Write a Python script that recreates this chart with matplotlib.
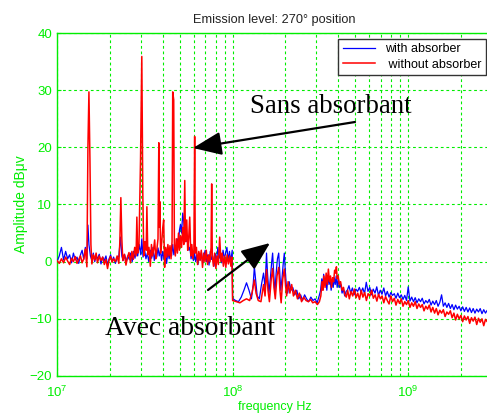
import matplotlib
matplotlib.use("Agg")
import matplotlib.pyplot as plt
import numpy as np

# ---------------- data (frequencies in MHz, amplitudes in dBuV) ----------------
red_freq_mhz = [
    10.0, 10.3, 10.6, 10.9, 11.2, 11.5, 11.8, 12.1, 12.4, 12.7, 13.0, 13.3, 13.6, 13.9, 14.2, 14.5, 14.8,
    15.0, 15.2, 15.4, 15.6, 15.8, 16.1, 16.4, 16.7, 17.0, 17.4, 17.8, 18.2, 18.6, 19.0, 19.4, 19.8,
    20.2, 20.6, 21.0, 21.5, 22.0, 22.5, 22.8, 23.1, 23.4, 23.7, 24.2, 24.7, 25.2, 25.7, 26.2, 26.7,
    27.2, 27.7, 28.2, 28.5, 28.8, 29.3, 29.9, 30.4, 30.8, 31.2, 31.7, 32.2, 32.5, 32.9, 33.4, 34.0,
    34.5, 35.0, 35.5, 36.0, 36.5, 37.0, 37.6, 38.0, 38.3, 38.5, 38.9, 39.5, 40.0, 40.5, 41.0, 41.6,
    42.2, 42.8, 43.4, 44.0, 44.6, 45.2, 45.6, 46.2, 46.6, 47.2, 47.8, 48.5, 49.2, 49.8, 50.5, 51.2,
    52.0, 52.7, 53.4, 53.9, 54.8, 55.5, 56.2, 57.0, 57.8, 58.6, 59.4, 60.2, 60.8, 61.3, 62.2, 63.2,
    64.2, 65.2, 66.3, 67.4, 68.5, 69.6, 70.8, 72.0, 73.2, 74.4, 75.4, 76.0, 76.6, 77.8, 79.0, 80.3,
    81.6, 83.0, 84.4, 85.8, 87.2, 88.6, 90.0, 91.5, 93.0, 94.6, 96.2, 97.8, 99.0, 100.0,
    100.5, 105, 110, 115, 120, 125, 129, 133, 136, 140, 145, 150, 153, 156, 159, 162, 166, 169,
    172, 175, 179, 183, 186, 189, 193, 197, 200, 203,
    207, 212, 217, 222, 228, 234, 240, 247, 254, 262, 270, 278, 286, 295, 304, 312, 318, 323, 327,
    331, 336, 341, 346, 351, 356, 361, 366, 371, 376, 381, 386, 390, 394, 399, 405, 412, 420, 428,
    436, 444,
    452, 462, 472, 483, 494, 505, 516, 528, 540, 552, 565, 578, 591, 605, 619, 633, 648, 663, 678,
    694, 710, 726, 743, 760, 778, 796, 814, 833, 852, 872, 892, 913, 934, 956, 978, 1000, 1023,
    1047, 1071, 1096, 1122, 1148, 1175, 1202, 1230, 1259, 1288, 1318, 1349, 1380, 1413, 1445, 1479,
    1514, 1549, 1585, 1622, 1660, 1698, 1738, 1778, 1820, 1862, 1905, 1950, 1995, 2042, 2089, 2138,
    2188, 2239, 2291, 2344, 2399, 2455, 2512, 2570, 2630, 2692, 2754, 2818, 2884, 2951,
]
red_amp_db = [
    0.2, -0.3, 0.5, -0.2, 0.8, 0.1, -0.5, 0.6, 0.0, 0.9, -0.3, 0.4, 1.0, -0.2, 0.5, 2.2, -0.9,
    20.0, 29.7, 18.0, 3.0, -0.4, 1.2, 0.3, 1.5, -0.2, 1.0, 0.2, 0.8, -0.5, 0.4, -1.2, 0.3,
    0.9, -0.1, 0.5, 0.0, 1.0, -0.3, 3.5, 11.2, 4.0, 0.2, 1.3, -0.6, 0.8, 1.6, -0.2, 1.8,
    0.4, 2.5, 1.0, 7.8, 1.5, 3.0, 17.8, 35.9, 12.0, 1.0, 3.5, 2.0, 9.6, 1.2, 2.5, -0.8,
    3.0, 1.0, 2.2, 3.8, 0.5, 2.0, 4.0, 20.8, 6.0, 10.5, 1.5, 3.5, 5.9, 7.3, -1.0, 2.5,
    0.8, 3.0, 1.0, 2.8, 0.5, 3.5, 29.7, 28.3, 3.0, 1.0, 4.0, 1.5, 5.0, 2.0, 4.5, 2.5,
    6.0, 3.0, 14.2, 3.5, 7.3, 2.0, 4.0, 7.8, 1.0, 3.0, 0.5, 2.0, 21.9, 1.5, 2.5, -0.5,
    1.8, 0.2, 2.0, -1.0, 1.5, 0.0, 2.0, -0.5, 1.2, 0.0, 2.5, 13.6, 1.0, -0.8, 1.5, -1.2,
    1.0, -0.5, 4.3, 0.0, 1.5, -0.8, 1.0, -1.0, 1.2, -0.4, 1.0, -0.8, 0.8, -6.8,
    -6.8, -7.0, -7.2, -6.8, -6.5, -6.8, -5.5, -3.2, -5.5, -6.8, -7.0, -4.0, -6.0, -1.4, -5.0, -7.0, -3.0, -1.2,
    -4.5, -6.5, -2.5, -1.0, -5.0, -7.2, -3.0, -1.3, -4.0, -6.0,
    -3.5, -5.5, -4.0, -6.0, -5.0, -6.5, -5.5, -7.0, -6.2, -6.8, -7.0, -6.6, -7.2, -7.0, -7.5, -7.0, -6.0, -3.5, -5.0,
    -2.5, -4.5, -2.0, -4.0, -1.3, -3.5, -2.5, -4.5, -2.8, -3.5, -1.5, -2.0, -0.9, -3.0, -2.5, -4.0, -3.5, -5.0, -4.5,
    -5.8, -6.2,
    -5.0, -6.5, -5.2, -6.0, -4.8, -6.3, -5.5, -6.6, -5.0, -6.2, -5.4, -6.8, -5.6, -6.0, -5.0, -6.4, -5.8, -6.9, -5.7,
    -6.5, -6.0, -7.2, -6.1, -6.8, -7.4, -6.0, -7.0, -6.4, -7.6, -6.6, -7.3, -6.5, -7.8, -7.0, -7.5, -6.8, -8.0,
    -7.2, -7.8, -7.0, -8.2, -7.4, -8.0, -7.5, -8.6, -7.8, -8.3, -7.6, -8.8, -8.0, -9.0, -8.2, -9.3,
    -8.5, -9.0, -8.4, -9.6, -8.8, -9.2, -8.6, -9.8, -9.0, -10.2, -9.2, -10.0, -9.4, -10.5, -9.5, -10.2,
    -9.6, -10.8, -9.8, -10.4, -9.7, -11.0, -9.9, -10.6, -10.0, -11.2, -10.1, -10.5, -10.0, -10.8,
]

blue_freq_mhz = [
    10.0, 10.3, 10.6, 10.9, 11.2, 11.5, 11.8, 12.1, 12.4, 12.7, 13.0, 13.3, 13.6, 13.9, 14.2, 14.5, 14.8,
    15.0, 15.2, 15.5, 15.8, 16.1, 16.4, 16.7, 17.0, 17.4, 17.8, 18.2, 18.6, 19.0, 19.4, 19.8, 20.2,
    20.6, 21.0, 21.5, 22.0, 22.5, 23.0, 23.4, 23.8, 24.3, 24.8, 25.3, 25.8, 26.3, 26.8, 27.3, 27.8,
    28.3, 28.8, 29.4, 30.0, 30.4, 30.9, 31.5, 32.1, 32.7, 33.3, 34.0, 34.6, 35.2, 35.8, 36.4, 37.0,
    37.6, 38.2, 38.8, 39.4, 40.0, 40.7, 41.4, 42.1, 42.8, 43.5, 44.2, 44.9, 45.6, 46.3, 47.0, 47.7,
    48.4, 49.1, 49.8, 50.5, 51.2, 52.0, 52.7, 53.4, 54.1, 54.8, 55.6, 56.4, 57.2, 58.0, 58.9, 59.8,
    60.7, 61.6, 62.5, 63.5, 64.5, 65.5, 66.5, 67.6, 68.7, 69.8, 71.0, 72.2, 73.4, 74.6, 75.8, 77.0,
    78.3, 79.6, 81.0, 82.4, 83.8, 85.2, 86.7, 88.2, 89.7, 91.2, 92.8, 94.4, 96.0, 97.6, 99.0, 99.5, 100.0,
    100.5, 104, 108, 112, 116, 120, 124, 128, 131, 133, 135, 138, 142, 146, 150, 153, 156, 158, 161,
    164, 167, 169, 171, 174, 177, 180, 183, 185, 188, 191, 194, 197, 199, 202, 206,
    210, 215, 220, 226, 232, 238, 244, 250, 257, 264, 271, 279, 287, 295, 303, 311, 317, 322, 326,
    330, 334, 339, 344, 349, 354, 359, 364, 369, 374, 379, 384, 389, 394, 400, 406, 413, 420, 427,
    435, 443,
    450, 460, 470, 481, 492, 503, 515, 527, 539, 551, 564, 577, 590, 604, 618, 632, 647, 662, 677,
    693, 709, 726, 743, 760, 778, 796, 814, 833, 852, 872, 892, 913, 934, 956, 978, 1000, 1023,
    1047, 1071, 1096, 1122, 1148, 1175, 1202, 1230, 1259, 1288, 1318, 1349, 1380, 1413, 1445, 1479,
    1514, 1549, 1585, 1622, 1660, 1698, 1738, 1778, 1820, 1862, 1905, 1950, 1995, 2042, 2089, 2138,
    2188, 2239, 2291, 2344, 2399, 2455, 2512, 2570, 2630, 2692, 2754, 2818, 2884, 2951,
]
blue_amp_db = [
    0.0, 1.0, 2.5, 0.3, 1.8, 0.5, 1.2, -0.2, 1.5, 0.3, 0.8, -0.3, 1.2, 2.0, 0.4, 2.5, 0.5,
    6.4, 3.0, 1.0, 0.2, 1.5, 0.0, 1.0, 0.5, 1.3, -0.4, 0.8, 0.2, 1.0, -0.6, 0.5, 1.2,
    0.0, 0.8, -0.3, 0.6, 1.0, 4.3, 1.0, 0.2, 1.2, 0.0, 1.0, 0.4, 1.5, 0.0, 1.8, 0.6,
    2.0, 1.0, 3.0, 1.2, 4.0, 0.8, 2.2, 0.5, 1.5, 0.0, 2.0, 0.6, 2.5, 0.2, 1.5, 0.8,
    2.4, 1.0, 2.0, 0.2, 1.8, 0.5, 1.5, -0.3, 1.8, 0.5, 2.0, 1.0, 3.0, 1.2, 2.5, 2.0,
    4.0, 3.0, 5.5, 6.5, 5.0, 8.5, 7.0, 5.5, 6.0, 3.5, 4.0, 2.0, 2.5, 0.5, 1.8, 0.2,
    1.5, 0.0, 1.2, -0.5, 1.5, 0.3, 1.6, -0.2, 1.0, 2.0, 0.0, 1.2, -0.6, 1.8, 0.4, 1.0,
    -0.8, 1.4, 0.0, 2.5, 0.6, 1.5, -0.2, 2.0, 0.5, 1.5, 2.5, 0.2, 1.8, 0.0, 1.5, 2.0, -6.5,
    -6.5, -6.8, -7.0, -6.2, -5.0, -3.7, -5.0, -6.5, -4.0, -0.9, -3.0, -6.0, -6.5, -4.0, -2.0, -4.5, 1.5, -2.0, -5.5,
    -3.0, 0.0, 1.5, -1.5, -5.5, -2.0, 0.5, 1.5, -1.0, -5.0, -3.0, -0.5, 1.5, -1.0, -4.0, -5.5,
    -3.5, -5.0, -4.5, -5.8, -5.0, -6.5, -5.8, -6.8, -5.8, -6.5, -7.0, -6.2, -6.8, -6.5, -7.2, -6.0, -5.0, -3.0, -4.5,
    -2.2, -4.0, -3.0, -5.0, -2.5, -4.0, -3.0, -5.0, -3.5, -4.5, -2.8, -4.0, -2.5, -4.5, -3.0, -4.5, -4.0, -5.5, -4.8,
    -6.0, -5.2,
    -5.0, -4.2, -5.5, -4.6, -5.8, -4.8, -5.2, -4.5, -5.4, -4.6, -5.6, -3.6, -5.2, -4.5, -5.8, -4.8, -5.5, -4.4, -5.9,
    -5.0, -5.7, -4.6, -6.0, -5.2, -6.2, -5.4, -5.9, -5.6, -6.4, -5.5, -6.3, -5.8, -6.6, -5.9, -6.8, -4.4, -6.9,
    -6.2, -7.0, -6.3, -7.2, -6.5, -7.0, -6.4, -7.4, -6.8, -7.2, -6.6, -7.6, -6.9, -7.5, -6.8, -7.8,
    -7.1, -5.8, -7.8, -7.2, -8.0, -7.3, -8.2, -7.5, -8.4, -7.6, -8.3, -7.8, -8.6, -7.9, -8.7, -8.0,
    -8.8, -8.1, -8.9, -8.2, -9.0, -8.3, -8.8, -8.2, -9.1, -8.4, -9.0, -8.5, -9.2, -8.6,
]

title_text = "Emission level: 270\u00b0 position"
xlabel_text = "frequency Hz"
ylabel_text = "Amplitude dB\u03bcv"
series_labels = ["with absorber", " without absorber"]
annotation_texts = ["Sans absorbant", "Avec absorbant"]

# ---------------- figure ----------------
W, H = 487, 417
fig = plt.figure(figsize=(W / 100, H / 100), dpi=100)
fig.patch.set_facecolor("white")

ax_left, ax_right, ax_top, ax_bot = 57, 492, 33, 376
ax = fig.add_axes([ax_left / W, 1 - ax_bot / H, (ax_right - ax_left) / W, (ax_bot - ax_top) / H])

green = "#00ee00"
red_hz = np.array(red_freq_mhz) * 1e6
blue_hz = np.array(blue_freq_mhz) * 1e6

ax.plot(blue_hz, blue_amp_db, color="#0000ff", lw=0.9, label=series_labels[0], zorder=3)
ax.plot(red_hz, red_amp_db, color="#ff0000", lw=1.1, label=series_labels[1], zorder=4)

ax.set_xscale("log")
ax.set_xlim(1e7, 3e9)
ax.set_ylim(-20, 40)
ax.set_yticks([-20, -10, 0, 10, 20, 30, 40])
ax.set_xticks([1e7, 1e8, 1e9])

ax.grid(True, which="major", axis="y", color=green, ls=(0, (2.5, 2.5)), lw=0.8)
ax.grid(True, which="both", axis="x", color=green, ls=(0, (2.5, 2.5)), lw=0.8)
for s in ax.spines.values():
    s.set_color(green)
    s.set_linewidth(1.0)
ax.tick_params(axis="both", which="both", direction="in", colors=green, labelcolor=green,
               labelsize=9.5, length=3)
ax.tick_params(axis="x", which="minor", length=0)
ax.tick_params(axis="x", which="major", pad=6)
for lab in ax.get_xticklabels() + ax.get_yticklabels():
    lab.set_family("Liberation Sans")

ax.set_title(title_text, fontsize=9.2, color="#222222", pad=7, family="Liberation Sans")
ax.set_xlabel(xlabel_text, fontsize=9, color=green, family="Liberation Sans", labelpad=1)
ax.set_ylabel(ylabel_text, fontsize=10, color=green, family="Liberation Sans", labelpad=1)

leg = ax.legend(loc="upper right", bbox_to_anchor=(486 / W, 1 - 39 / H), bbox_transform=fig.transFigure,
                borderaxespad=0, fancybox=False, framealpha=1, edgecolor="#333333",
                prop={"family": "Liberation Sans", "size": 9}, handlelength=2.6, borderpad=0.35,
                labelspacing=0.25)
leg.get_frame().set_linewidth(1.0)

# annotations with arrows (figure pixel coordinates)
arrow = dict(arrowstyle="-|>,head_length=1.1,head_width=0.45", mutation_scale=16, lw=1.6,
             color="black", shrinkA=0, shrinkB=0)
ax.annotate("", xy=(193, H - 148), xycoords="figure pixels", xytext=(355, H - 122),
            textcoords="figure pixels", arrowprops=arrow, zorder=6)
ax.annotate("", xy=(270, H - 243), xycoords="figure pixels", xytext=(208, H - 290),
            textcoords="figure pixels", arrowprops=arrow, zorder=6)
fig.text(250 / W, 1 - 113 / H, annotation_texts[0], fontsize=19.3, family="Liberation Serif",
         color="black", ha="left", va="baseline")
fig.text(105 / W, 1 - 335 / H, annotation_texts[1], fontsize=19.8, family="Liberation Serif",
         color="black", ha="left", va="baseline")

fig.savefig("out.png", dpi=100)
